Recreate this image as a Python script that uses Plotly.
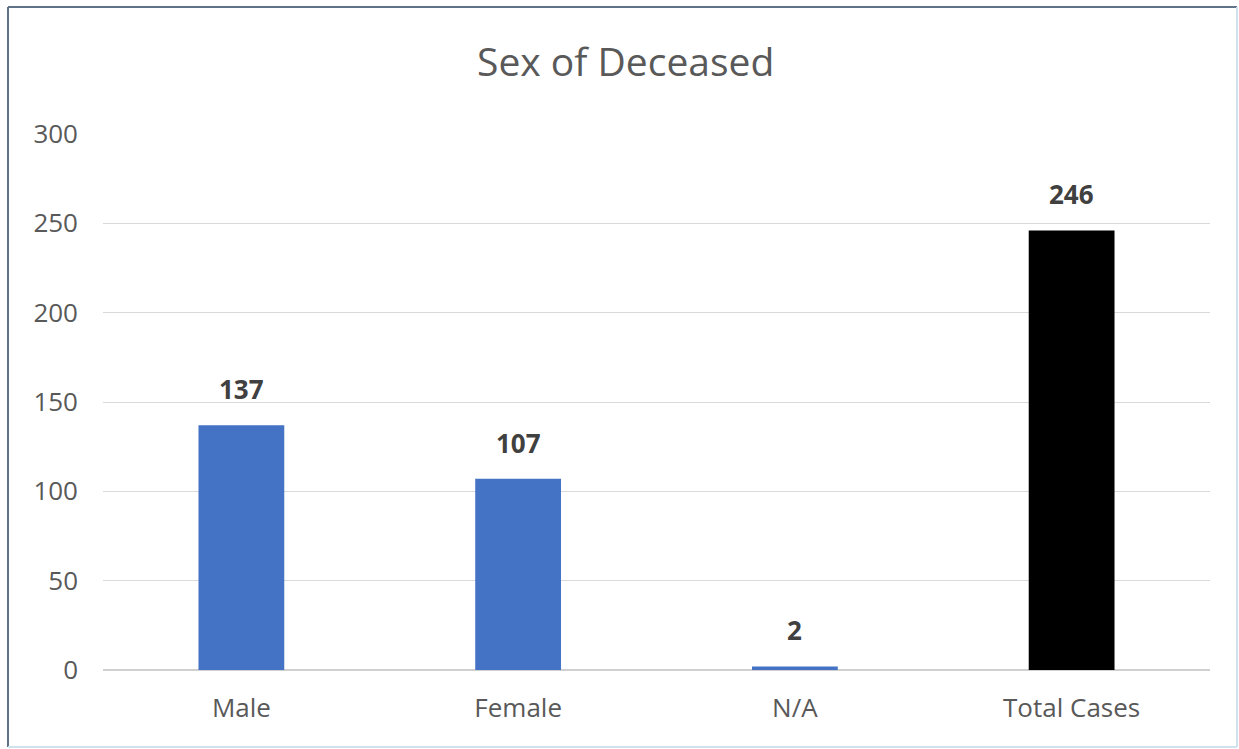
import plotly.graph_objects as go

categories = ["Male", "Female", "N/A", "Total Cases"]
values = [137, 107, 2, 246]
bar_colors = ["#4472C4", "#4472C4", "#4472C4", "#000000"]
y_ticks = [0, 50, 100, 150, 200, 250, 300]

W, H = 1239, 749
ml, mr, mt, mb = 103, 29, 134, 79
pw = W - ml - mr
ph = H - mt - mb
FONT = "Open Sans, Lato, sans-serif"

def px_x(x):
    return (x - ml) / pw

def px_y(y):
    return (H - mb - y) / ph

fig = go.Figure()
fig.add_trace(go.Bar(
    x=categories, y=values,
    marker=dict(color=bar_colors, line=dict(width=0)),
    hoverinfo="x+y",
))

for c, v in zip(categories, values):
    fig.add_annotation(x=c, y=v, text=f"<b>{v}</b>", showarrow=False,
                       yanchor="middle", yshift=36,
                       font=dict(family=FONT, size=26, color="#404040"))

# frame around the chart image
frame = [
    (8, 7, 8, 747, "#5F7288"),      # left
    (8, 7, 1237, 7, "#5F7288"),     # top
    (8, 747, 1237, 747, "#CFE2EE"), # bottom
    (1237, 7, 1237, 747, "#CFE2EE") # right
]
for x0, y0, x1, y1, col in frame:
    fig.add_shape(type="line", xref="paper", yref="paper",
                  x0=px_x(x0), x1=px_x(x1), y0=px_y(y0), y1=px_y(y1),
                  line=dict(color=col, width=2), layer="below")

fig.update_layout(
    width=W, height=H,
    margin=dict(l=ml, r=mr, t=mt, b=mb),
    paper_bgcolor="white", plot_bgcolor="white",
    bargap=0.69,
    showlegend=False,
    title=dict(text="Sex of Deceased", x=0.505, xanchor="center", y=1 - 62 / H, yanchor="middle",
               font=dict(family=FONT, size=39, color="#595959")),
    font=dict(family=FONT, size=26, color="#595959"),
    xaxis=dict(showgrid=False, showline=False, ticks="", tickfont=dict(size=26, color="#595959"),
               ticklabelstandoff=20),
    yaxis=dict(range=[0, 300], tickvals=y_ticks, showgrid=True, gridcolor="#D9D9D9", gridwidth=1.3,
               zeroline=True, zerolinecolor="#D0D0D0", zerolinewidth=1.5,
               showline=False, ticks="", tickfont=dict(size=26, color="#595959"),
               ticklabelstandoff=24),
)

fig.write_html("out.html", config={"displayModeBar": False},
               post_script="document.body.style.margin='0';document.body.style.overflow='hidden';")
